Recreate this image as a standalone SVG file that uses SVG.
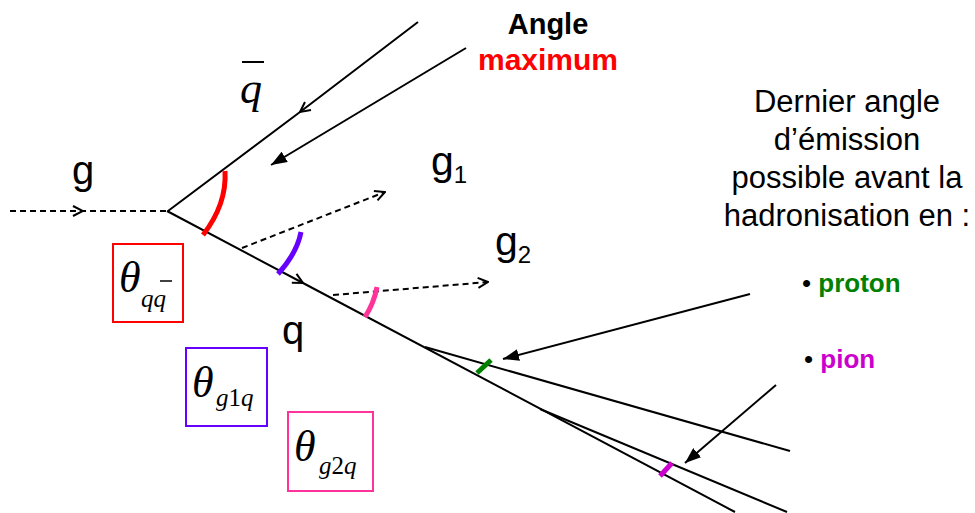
<svg xmlns="http://www.w3.org/2000/svg" width="975" height="513" viewBox="0 0 975 513">
<defs>
<marker id="open" viewBox="0 0 12 12" refX="11" refY="6" markerWidth="12" markerHeight="12" markerUnits="userSpaceOnUse" orient="auto">
<path d="M1,1 L11,6 L1,11" fill="none" stroke="#000" stroke-width="2"/>
</marker>
<marker id="filled" viewBox="0 0 16 12" refX="16" refY="6" markerWidth="16" markerHeight="12" markerUnits="userSpaceOnUse" orient="auto">
<path d="M0,0 L16,6 L0,12 z" fill="#000"/>
</marker>
<style>
.ln{fill:none;stroke:#000;stroke-width:2}
.dash{fill:none;stroke:#000;stroke-width:2;stroke-dasharray:6 4}
.arc{fill:none;stroke-width:5;stroke-linecap:butt}
.box{fill:none;stroke-width:2}
.sans{font-family:"Liberation Sans",Arial,sans-serif}
.math{font-family:"Liberation Serif","Times New Roman",serif;font-style:italic}
.up{font-style:normal}
</style>
</defs>
<g id="connectors">
<polyline class="dash" points="10,211 83,211 167,211" marker-mid="url(#open)"/>
<polyline class="ln" points="418,22 300,112 168,211" marker-mid="url(#open)"/>
<polyline class="ln" points="167,211 303,283 735,512" marker-mid="url(#open)"/>
<line class="ln" x1="540" y1="409" x2="787" y2="512"/>
<line class="ln" x1="425" y1="347" x2="790" y2="451"/>
<line class="dash" x1="242" y1="248" x2="385" y2="192" marker-end="url(#open)"/>
<line class="dash" x1="333" y1="295" x2="488" y2="282" marker-end="url(#open)"/>
<line class="ln" x1="466" y1="48" x2="271" y2="165" marker-end="url(#filled)"/>
<line class="ln" x1="750" y1="294" x2="503" y2="359" marker-end="url(#filled)"/>
<line class="ln" x1="776" y1="385" x2="685" y2="463" marker-end="url(#filled)"/>
</g>
<g id="angles">
<path class="arc" stroke="#ff0000" d="M225,171 Q227,204 203,235"/>
<path class="arc" stroke="#6600ff" d="M301,232 Q297,253 278,274"/>
<path class="arc" stroke="#ff3399" d="M377,287 Q374,303 365,317"/>
<line class="arc" stroke="#008000" x1="477" y1="373" x2="491" y2="360"/>
<line class="arc" stroke="#cc00cc" x1="660" y1="476" x2="672" y2="463"/>
</g>
<g id="label-g"><text class="sans" x="72" y="184" font-size="40">g</text></g>
<g id="label-q"><text class="sans" x="282" y="344" font-size="40">q</text></g>
<g id="label-qbar">
<text class="math" x="240" y="103" font-size="44">q</text>
<line x1="242" y1="62" x2="264" y2="62" stroke="#000" stroke-width="2"/>
</g>
<g id="label-g1"><text class="sans" x="431" y="175" font-size="41">g<tspan font-size="24" dy="8">1</tspan></text></g>
<g id="label-g2"><text class="sans" x="495" y="255" font-size="41">g<tspan font-size="24" dy="8">2</tspan></text></g>
<g id="label-angle">
<text class="sans" x="548" y="34" font-size="29" font-weight="bold" text-anchor="middle">Angle</text>
<text class="sans" x="548" y="70" font-size="30" font-weight="bold" text-anchor="middle" fill="#ff0000">maximum</text>
</g>
<g id="label-dernier" class="sans" font-size="31" text-anchor="middle">
<text x="847" y="112">Dernier angle</text>
<text x="847" y="150">d’émission</text>
<text x="847" y="188">possible avant la</text>
<text x="847" y="226">hadronisation en :</text>
</g>
<g id="label-proton"><text class="sans" x="802" y="292" font-size="26"><tspan font-weight="normal">• </tspan><tspan font-weight="bold" fill="#008000">proton</tspan></text></g>
<g id="label-pion"><text class="sans" x="804" y="368" font-size="26"><tspan>• </tspan><tspan font-weight="bold" fill="#cc00cc">pion</tspan></text></g>
<g id="box-qq">
<rect class="box" stroke="#ff0000" x="113" y="244" width="70" height="78"/>
<text class="math" x="119" y="292" font-size="44">θ</text>
<text class="math" x="141" y="307" font-size="25">qq</text>
<line x1="160" y1="281" x2="172" y2="281" stroke="#000" stroke-width="1.5"/>
</g>
<g id="box-g1q">
<rect class="box" stroke="#6600ff" x="186" y="348" width="81" height="78"/>
<text class="math" x="192" y="397" font-size="44">θ</text>
<text class="math" x="216" y="406" font-size="25">g<tspan class="up">1</tspan>q</text>
</g>
<g id="box-g2q">
<rect class="box" stroke="#ff3399" x="288" y="412" width="85" height="79"/>
<text class="math" x="294" y="461" font-size="44">θ</text>
<text class="math" x="319" y="474" font-size="25">g<tspan class="up">2</tspan>q</text>
</g>
</svg>
